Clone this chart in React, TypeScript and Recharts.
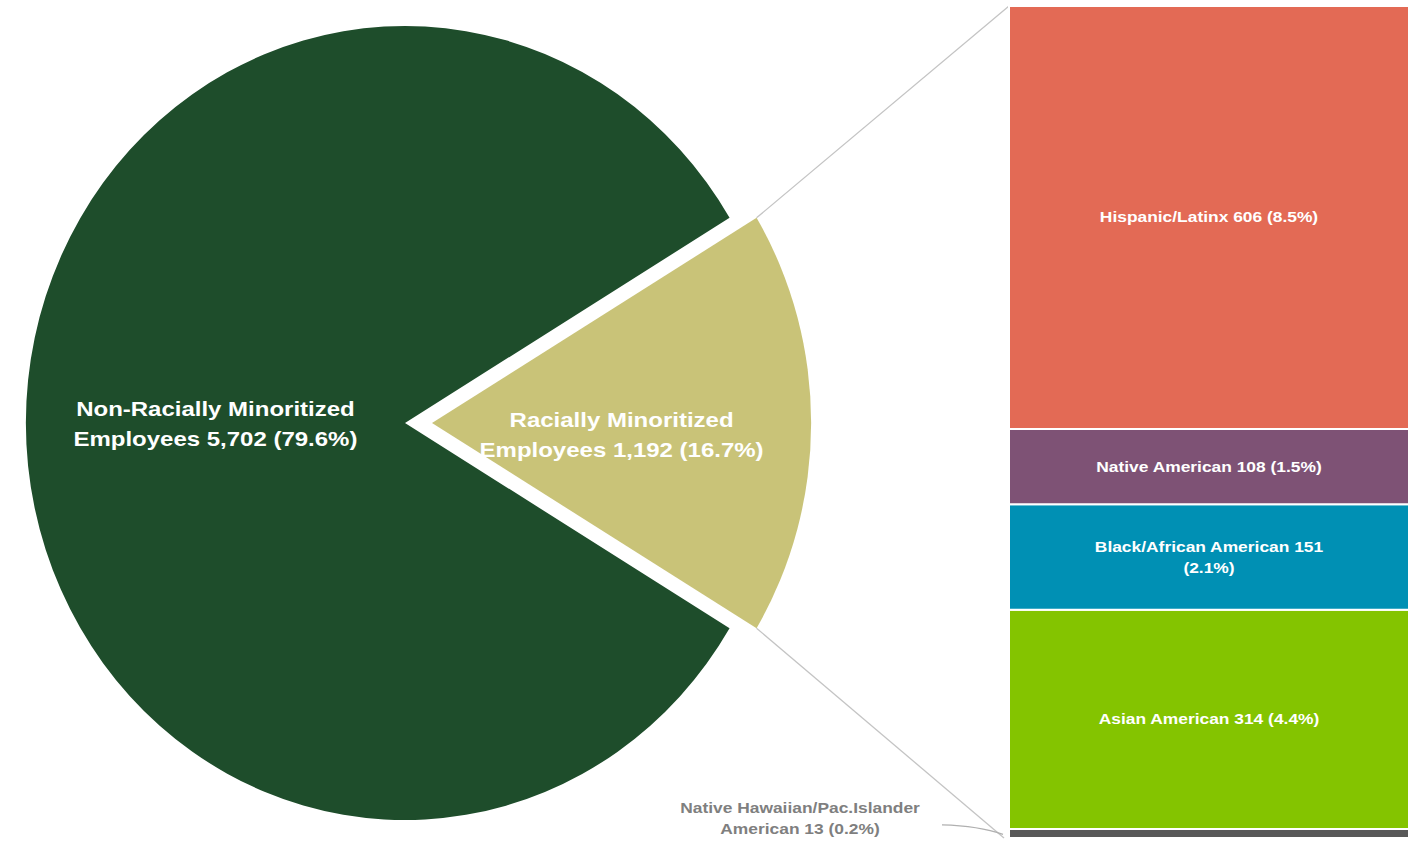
import { Bar, BarChart, LabelList, Pie, PieChart, Sector, XAxis, YAxis } from "recharts"

// pie: racially minoritized vs not
const groupNames = ["Racially Minoritized Employees", "Non-Racially Minoritized Employees"]
const groupCounts = [1192, 5702]
const groupShares = ["16.7%", "79.6%"]
const groupColors = ["#C9C378", "#1E4D2B"]

// bar: breakdown of the racially minoritized slice (bottom to top)
const subNames = [
  "Native Hawaiian/Pac.Islander American",
  "Asian American",
  "Black/African American",
  "Native American",
  "Hispanic/Latinx",
]
const subCounts = [13, 314, 151, 108, 606]
const subShares = ["0.2%", "4.4%", "2.1%", "1.5%", "8.5%"]
const subColors = ["#595959", "#84C400", "#0090B4", "#7E5275", "#E36A55"]

const pieData = groupNames.map((name, i) => ({ name, value: groupCounts[i], fill: groupColors[i] }))
const barData = [
  { name: "Racially Minoritized", ...Object.fromEntries(subCounts.map((v, i) => [`s${i}`, v])) },
]

const W = 1417
const H = 846
const CX = 405
const CY = 423
const R = 397
const SX = 0.955 // the pie is drawn slightly squashed horizontally
const TX = 1.2 // text in the original is stretched wide
const EXPLODE = 27
const BAR_LEFT = 1009
const BAR_TOP = 6
const BAR_BOTTOM = 838
const FONT = "'Liberation Sans', Arial, sans-serif"
const RAD = Math.PI / 180
const half = (groupCounts[0] / (groupCounts[0] + groupCounts[1])) * 180

const fmt = (n: number) => n.toLocaleString("en-US")

const wrap = (text: string, max: number) => {
  const lines: string[] = []
  let cur = ""
  text.split(" ").forEach((w) => {
    if (cur && (cur + " " + w).length > max) {
      lines.push(cur)
      cur = w
    } else cur = cur ? cur + " " + w : w
  })
  if (cur) lines.push(cur)
  return lines
}

const WideText = ({ x, y, lines, size, gap, fill }: any) => (
  <g transform={`translate(${x} ${y}) scale(${TX} 1)`}>
    <text x={0} y={0} fill={fill} textAnchor="middle" fontFamily={FONT} fontSize={size} fontWeight="bold">
      {lines.map((l: string, k: number) => (
        <tspan key={k} x={0} dy={k === 0 ? 0 : gap}>
          {l}
        </tspan>
      ))}
    </text>
  </g>
)

const sliceCenter = (cx: number, cy: number, midAngle: number, exploded: boolean) => {
  const off = exploded ? EXPLODE : 0
  return { x: cx + off * Math.cos(-midAngle * RAD), y: cy + off * Math.sin(-midAngle * RAD) }
}

const renderSlice = (props: any) => {
  const name = props.payload?.name ?? props.name
  const exploded = name === groupNames[0]
  const c = sliceCenter(props.cx, props.cy, props.midAngle, exploded)
  const tf = `translate(${c.x} ${c.y}) scale(${SX} 1) translate(${-c.x} ${-c.y})`
  const corner = (a: number) => ({
    x: c.x + props.outerRadius * SX * Math.cos(-a * RAD),
    y: c.y + props.outerRadius * Math.sin(-a * RAD),
  })
  const top = corner(props.endAngle)
  const bottom = corner(props.startAngle)
  return (
    <g>
      <g transform={tf}>
        <Sector {...props} cx={c.x} cy={c.y} stroke="none" />
      </g>
      {exploded && (
        <g stroke="#C4C4C4" strokeWidth={1.3}>
          <line x1={top.x} y1={top.y} x2={BAR_LEFT} y2={BAR_TOP} />
          <line x1={bottom.x} y1={bottom.y} x2={BAR_LEFT - 5} y2={BAR_BOTTOM} />
        </g>
      )}
    </g>
  )
}

const renderPieLabel = (props: any) => {
  const name = props.payload?.name ?? props.name
  const i = groupNames.indexOf(name)
  const exploded = i === 0
  const c = sliceCenter(props.cx, props.cy, props.midAngle, exploded)
  const x = c.x + props.outerRadius * 0.5 * SX * Math.cos(-props.midAngle * RAD)
  const y = c.y + (exploded ? 4 : -7)
  const lines = [name.replace(" Employees", ""), `Employees ${fmt(groupCounts[i])} (${groupShares[i]})`]
  return <WideText x={x} y={y} lines={lines} size={20} gap={30} fill="#fff" />
}

const barLabel = (i: number) => (props: any) => {
  const { x, y, width, height } = props
  const lines = wrap(`${subNames[i]} ${fmt(subCounts[i])} (${subShares[i]})`, 28)
  const inside = i !== 0
  const tx = inside ? x + width / 2 : x - 209
  const ty = inside ? y + height / 2 - ((lines.length - 1) * 21) / 2 + 5 : y - 16
  return (
    <g>
      {!inside && (
        <path
          d={`M ${x - 67} ${y - 4} Q ${x - 30} ${y - 3} ${x - 6} ${y + height / 2 + 1}`}
          fill="none"
          stroke="#B0B0B0"
          strokeWidth={1.3}
        />
      )}
      <WideText x={tx} y={ty} lines={lines} size={14.5} gap={21} fill={inside ? "#fff" : "#7F7F7F"} />
    </g>
  )
}

export default function App() {
  return (
    <div style={{ position: "absolute", left: 0, top: 0, width: W, height: H, background: "#fff" }}>
      <div style={{ position: "absolute", left: 0, top: 0 }}>
        <PieChart width={W} height={H} margin={{ top: 0, right: 0, bottom: 0, left: 0 }}>
          <Pie
            data={pieData}
            dataKey="value"
            nameKey="name"
            cx={CX}
            cy={CY}
            outerRadius={R}
            startAngle={-half}
            endAngle={360 - half}
            stroke="none"
            shape={renderSlice}
            label={renderPieLabel}
            labelLine={false}
            isAnimationActive={false}
          />
        </PieChart>
      </div>
      <div style={{ position: "absolute", left: 0, top: 0 }}>
        <BarChart
          width={W}
          height={H}
          data={barData}
          margin={{ top: BAR_TOP, right: W - BAR_LEFT - 400, bottom: H - BAR_BOTTOM, left: BAR_LEFT }}
          barCategoryGap={0}
        >
          <XAxis dataKey="name" hide />
          <YAxis type="number" domain={[0, subCounts.reduce((a, b) => a + b, 0)]} hide />
          {subCounts.map((_, i) => (
            <Bar
              key={i}
              dataKey={`s${i}`}
              stackId="a"
              fill={subColors[i]}
              stroke="#fff"
              strokeWidth={2}
              isAnimationActive={false}
            >
              <LabelList dataKey={`s${i}`} content={barLabel(i)} />
            </Bar>
          ))}
        </BarChart>
      </div>
    </div>
  )
}
